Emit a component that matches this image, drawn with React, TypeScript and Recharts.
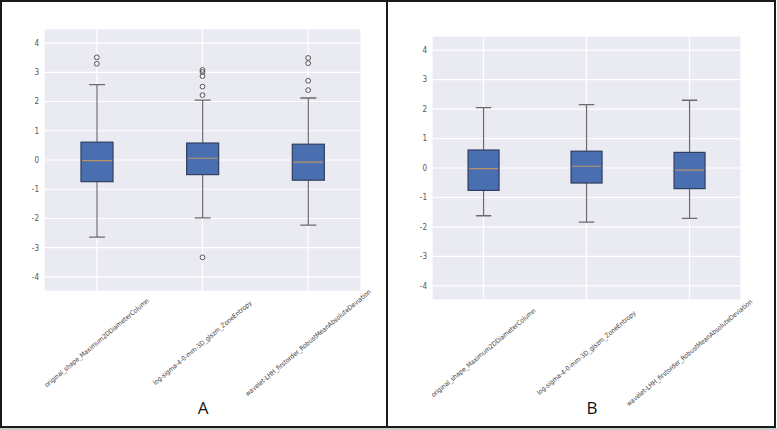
import React from 'react';
import { ComposedChart, Bar, Scatter, XAxis, YAxis, CartesianGrid } from 'recharts';

const features = [
  'original_shape_Maximum2DDiameterColumn',
  'log-sigma-4-0-mm-3D_glszm_ZoneEntropy',
  'wavelet-LHH_firstorder_RobustMeanAbsoluteDeviation',
];

// panel A (with outliers)
const aMin = [-2.64, -1.98, -2.23];
const aQ1 = [-0.74, -0.5, -0.69];
const aMedian = [-0.02, 0.06, -0.07];
const aQ3 = [0.61, 0.58, 0.54];
const aMax = [2.58, 2.05, 2.12];
const aOutliers = [
  [3.51, 3.29],
  [3.08, 3.01, 2.87, 2.51, 2.22, -3.33],
  [3.49, 3.31, 2.71, 2.39],
];

// panel B (outliers removed)
const bMin = [-1.62, -1.84, -1.71];
const bQ1 = [-0.76, -0.51, -0.7];
const bMedian = [-0.02, 0.06, -0.07];
const bQ3 = [0.61, 0.57, 0.53];
const bMax = [2.05, 2.15, 2.3];

const yTicks = [-4, -3, -2, -1, 0, 1, 2, 3, 4];

const FONT = "'DejaVu Sans Condensed', 'Liberation Sans Narrow', 'DejaVu Sans', sans-serif";

function buildRows(mins: number[], q1: number[], med: number[], q3: number[], maxs: number[]) {
  return features.map((name, i) => ({
    name, min: mins[i], q1: q1[i], median: med[i], q3: q3[i], max: maxs[i],
  }));
}

function buildOutliers(out: number[][]) {
  const pts: { name: string; v: number }[] = [];
  out.forEach((list, i) => list.forEach(v => pts.push({ name: features[i], v })));
  return pts;
}

// box drawn inside the [min, max] range bar, other levels mapped on the same linear scale
function BoxShape(props: any) {
  const { x, y, width, height, payload } = props;
  if (x == null || !payload) return null;
  const top = Math.min(y, y + height);
  const bot = Math.max(y, y + height);
  const span = payload.max - payload.min;
  const pix = (v: number) => bot - ((v - payload.min) / span) * (bot - top);
  const cx = x + width / 2;
  const cap = width / 4;
  const yQ1 = pix(payload.q1), yQ3 = pix(payload.q3), yMed = pix(payload.median);
  return (
    <g>
      <line x1={cx} x2={cx} y1={top} y2={yQ3} stroke="#6b6b6b" strokeWidth={1.2} />
      <line x1={cx} x2={cx} y1={yQ1} y2={bot} stroke="#6b6b6b" strokeWidth={1.2} />
      <line x1={cx - cap} x2={cx + cap} y1={top} y2={top} stroke="#6b6b6b" strokeWidth={1.3} />
      <line x1={cx - cap} x2={cx + cap} y1={bot} y2={bot} stroke="#6b6b6b" strokeWidth={1.3} />
      <rect x={x} y={yQ3} width={width} height={yQ1 - yQ3} fill="#4a6fb0" stroke="#2e3e60" strokeWidth={1.2} />
      <line x1={x + 1} x2={x + width - 1} y1={yMed} y2={yMed} stroke="#b8936a" strokeWidth={1.2} />
    </g>
  );
}

function OutlierDot(props: any) {
  const { cx, cy } = props;
  if (cx == null || cy == null || isNaN(cx) || isNaN(cy)) return null;
  return <circle cx={cx} cy={cy} r={2.4} fill="none" stroke="#555" strokeWidth={1} />;
}

function FeatureTick(props: any) {
  const { x, y, payload, offset } = props;
  const ty = y + offset;
  return (
    <text
      x={x} y={ty}
      textAnchor="middle" dominantBaseline="central"
      transform={`rotate(-40, ${x}, ${ty})`}
      fontSize={6.6} fill="#444" fontFamily={FONT}
    >
      {payload.value}
    </text>
  );
}

interface PanelProps {
  rows: any[];
  outliers?: { name: string; v: number }[];
  width: number;
  height: number;
  margin: { top: number; right: number; left: number; bottom: number };
  xAxisHeight: number;
  labelOffset: number;
}

function BoxPanel({ rows, outliers, width, height, margin, xAxisHeight, labelOffset }: PanelProps) {
  return (
    <ComposedChart width={width} height={height} data={rows} margin={margin} barCategoryGap="35%">
      <CartesianGrid fill="#eaeaf2" stroke="#ffffff" strokeWidth={1.2} />
      <XAxis
        dataKey="name" type="category" height={xAxisHeight} allowDuplicatedCategory={false}
        axisLine={false} tickLine={false} interval={0}
        tick={(p: any) => <FeatureTick {...p} offset={labelOffset} />}
      />
      <YAxis
        type="number" domain={[-4.48, 4.48]} ticks={yTicks} allowDataOverflow
        width={40} axisLine={false} tickLine={false} tickSize={0} tickMargin={5}
        tick={{ fontSize: 8, fill: '#555', fontFamily: FONT }}
      />
      <Bar dataKey={(d: any) => [d.min, d.max]} shape={<BoxShape />} isAnimationActive={false} />
      {outliers && (
        <Scatter data={outliers} dataKey="v" shape={<OutlierDot />} isAnimationActive={false} />
      )}
    </ComposedChart>
  );
}

export default function App() {
  const rowsA = buildRows(aMin, aQ1, aMedian, aQ3, aMax);
  const rowsB = buildRows(bMin, bQ1, bMedian, bQ3, bMax);
  const outA = buildOutliers(aOutliers);

  return (
    <div style={{
      position: 'absolute', left: 0, top: 0, width: 777, height: 430,
      background: '#ffffff', overflow: 'hidden',
    }}>
      {/* frame */}
      <div style={{
        position: 'absolute', left: 0, top: 0, width: 776, height: 428,
        boxSizing: 'border-box', border: '2px solid #1a1a1a',
      }} />
      <div style={{ position: 'absolute', left: 386, top: 0, width: 2, height: 428, background: '#1a1a1a' }} />
      <div style={{ position: 'absolute', left: 0, top: 428, width: 777, height: 2, background: '#c8c8c8' }} />

      <div style={{ position: 'absolute', left: 0, top: 0 }}>
        <BoxPanel
          rows={rowsA} outliers={outA}
          width={386} height={426}
          margin={{ top: 29, right: 25, left: 4, bottom: 0 }}
          xAxisHeight={135} labelOffset={44}
        />
      </div>
      <div style={{ position: 'absolute', left: 388, top: 0 }}>
        <BoxPanel
          rows={rowsB}
          width={388} height={426}
          margin={{ top: 36, right: 35, left: 4, bottom: 0 }}
          xAxisHeight={126} labelOffset={45}
        />
      </div>

      <div style={{
        position: 'absolute', left: 183, top: 396, width: 40, textAlign: 'center',
        fontSize: 17, fontFamily: "'Open Sans', sans-serif", color: '#111',
      }}>A</div>
      <div style={{
        position: 'absolute', left: 572, top: 396, width: 40, textAlign: 'center',
        fontSize: 17, fontFamily: "'Open Sans', sans-serif", color: '#111',
      }}>B</div>
    </div>
  );
}
